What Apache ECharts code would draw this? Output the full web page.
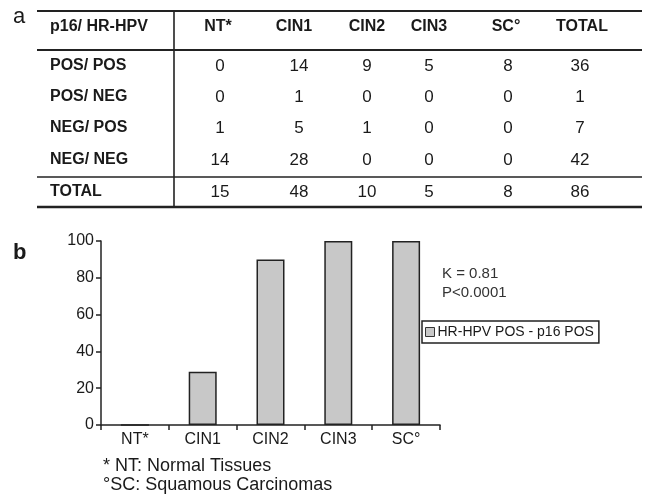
<!DOCTYPE html>
<html><head><meta charset="utf-8">
<script src="https://cdn.jsdelivr.net/npm/echarts@6/dist/echarts.min.js"></script>
<style>html,body{margin:0;padding:0;background:#fff;}#c{width:647px;height:498px;}</style>
</head><body><div id="c"></div>
<script>
// ---- data ----
var tableCorner = 'p16/ HR-HPV';
var tableColumns = ['NT*', 'CIN1', 'CIN2', 'CIN3', 'SC\u00b0', 'TOTAL'];
var tableRowLabels = ['POS/ POS', 'POS/ NEG', 'NEG/ POS', 'NEG/ NEG', 'TOTAL'];
var rowPosPos = [0, 14, 9, 5, 8, 36];
var rowPosNeg = [0, 1, 0, 0, 0, 1];
var rowNegPos = [1, 5, 1, 0, 0, 7];
var rowNegNeg = [14, 28, 0, 0, 0, 42];
var rowTotal  = [15, 48, 10, 5, 8, 86];
var tableRows = [rowPosPos, rowPosNeg, rowNegPos, rowNegNeg, rowTotal];

var categories = ['NT*', 'CIN1', 'CIN2', 'CIN3', 'SC\u00b0'];
var seriesName = 'HR-HPV POS - p16 POS';
var seriesValues = [0, 29, 90, 100, 100];
var yTicks = [0, 20, 40, 60, 80, 100];
var annotation = ['K = 0.81', 'P<0.0001'];
var footnotes = ['* NT: Normal Tissues', '\u00b0SC: Squamous Carcinomas'];

// ---- layout ----
var FONT = '"Liberation Sans", Arial, Helvetica, sans-serif';
var ink = '#1a1a1a';
var headerX = [218, 294, 367, 429, 506, 582];
var cellX = [220, 299, 367, 429, 508, 580];
var headerY = 27;
var rowY = [66, 97, 128, 160, 192];
var labelX = 50;

function txt(str, x, y, size, weight, align, color) {
  return {
    type: 'text', x: x, y: y, silent: true,
    style: {
      text: str, font: (weight || 'normal') + ' ' + size + 'px ' + FONT,
      fill: color || ink, align: align || 'left', textAlign: align || 'left',
      verticalAlign: 'middle', textVerticalAlign: 'middle'
    }
  };
}
function ln(x1, y1, x2, y2, w) {
  return { type: 'line', silent: true, shape: {x1: x1, y1: y1, x2: x2, y2: y2},
    style: {stroke: '#222', lineWidth: w} };
}

var graphics = [];
graphics.push(txt('a', 13, 17, 22, 'normal'));
graphics.push(txt('b', 13, 253, 22, 'bold'));
graphics.push(ln(37, 11, 642, 11, 2.2));
graphics.push(ln(37, 50, 642, 50, 2));
graphics.push(ln(37, 177, 642, 177, 1.6));
graphics.push(ln(37, 207, 642, 207, 2.6));
graphics.push(ln(174, 11, 174, 207, 1.6));
graphics.push(txt(tableCorner, labelX, headerY, 16, 'bold'));
tableColumns.forEach(function (c, i) {
  graphics.push(txt(c, headerX[i], headerY, 16, 'bold', 'center'));
});
tableRowLabels.forEach(function (r, j) {
  graphics.push(txt(r, labelX, rowY[j], 16, 'bold'));
  tableRows[j].forEach(function (v, i) {
    graphics.push(txt(String(v), cellX[i], rowY[j], 17, 'normal', 'center'));
  });
});
graphics.push(txt(annotation[0], 442, 274, 15, 'normal', 'left', '#333'));
graphics.push(txt(annotation[1], 442, 293, 15, 'normal', 'left', '#333'));
graphics.push(txt(footnotes[0], 103, 466, 18, 'normal'));
graphics.push(txt(footnotes[1], 103, 485, 18, 'normal'));

var chart = echarts.init(document.getElementById('c'), null, {renderer: 'canvas'});
chart.setOption({
  animation: false,
  backgroundColor: '#fff',
  textStyle: {fontFamily: FONT},
  grid: {left: 101, right: 207, top: 241, bottom: 73, containLabel: false},
  legend: {
    data: [seriesName], left: 422, top: 321,
    orient: 'vertical', padding: [4, 5, 4, 3],
    borderColor: '#222', borderWidth: 1.5, borderRadius: 0,
    itemWidth: 9, itemHeight: 9, itemGap: 4, icon: 'rect',
    itemStyle: {color: '#c8c8c8', borderColor: '#333', borderWidth: 1},
    textStyle: {fontSize: 14, color: ink, padding: [0, 0, 0, -2]}
  },
  xAxis: {
    type: 'category', data: categories, boundaryGap: true,
    axisLine: {lineStyle: {color: '#222', width: 1.5}},
    axisTick: {show: true, inside: false, length: 5, alignWithLabel: false, lineStyle: {color: '#222', width: 1.5}},
    axisLabel: {fontSize: 16, color: ink, margin: 7, interval: 0}
  },
  yAxis: {
    type: 'value', min: yTicks[0], max: yTicks[yTicks.length - 1], interval: yTicks[1] - yTicks[0],
    axisLine: {show: true, lineStyle: {color: '#222', width: 1.5}},
    axisTick: {show: true, inside: false, length: 5, lineStyle: {color: '#222', width: 1.5}},
    splitLine: {show: false},
    axisLabel: {fontSize: 16, color: ink, margin: 7}
  },
  series: [{
    name: seriesName, type: 'bar', data: seriesValues, barWidth: 28,
    itemStyle: {color: '#c8c8c8', borderColor: '#222', borderWidth: 1.5}
  }],
  graphic: graphics
});
</script>
</body></html>
